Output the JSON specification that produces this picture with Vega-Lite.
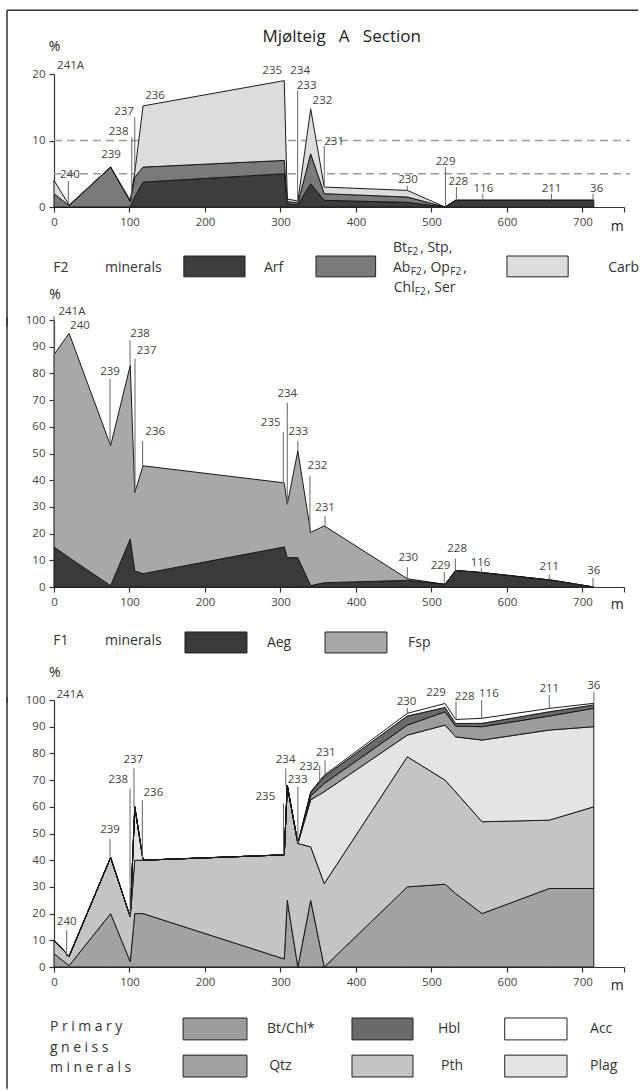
{
"$schema": "https://vega.github.io/schema/vega-lite/v6.json",
"padding": {"left": 6, "top": 9, "right": 0, "bottom": 0},
"bounds": "flush",
"spacing": 113,
"resolve": {"scale": {"x": "independent", "y": "independent", "color": "independent"}},
"config": {
  "font": "Open Sans",
  "view": {"stroke": null},
  "legend": {"disable": true},
  "axis": {"labelFont": "Open Sans", "labelFontSize": 11.5, "labelColor": "#444", "domainColor": "#333", "tickColor": "#333", "domainWidth": 1.2, "tickWidth": 1.2, "tickSize": 5, "grid": false, "labelPadding": 4, "labelOverlap": false, "title": null},
  "text": {"font": "Open Sans", "fontSize": 11.5, "fill": "#444"}
},
"datasets": {
  "ord": [{"min":"Arf","o":1},{"min":"Bt","o":2},{"min":"Carb","o":3},{"min":"Aeg","o":1},{"min":"Fsp","o":2},{"min":"Qtz","o":1},{"min":"Pth","o":2},{"min":"Plag","o":3},{"min":"BtChl","o":4},{"min":"Hbl","o":5},{"min":"Acc","o":6}],
  "f2": [
    {"s":"241A","m":0,"Arf":0,"Bt":2,"Carb":2},
    {"s":"240","m":20,"Arf":0,"Bt":0.2,"Carb":0.1},
    {"s":"239","m":75,"Arf":0,"Bt":6,"Carb":0},
    {"s":"238","m":101,"Arf":0,"Bt":0.8,"Carb":0.2},
    {"s":"237","m":107,"Arf":1.5,"Bt":3,"Carb":0.75},
    {"s":"236","m":118,"Arf":3.75,"Bt":2.25,"Carb":9.2},
    {"s":"235","m":305,"Arf":5,"Bt":2,"Carb":12},
    {"s":"234","m":309,"Arf":0.5,"Bt":0.3,"Carb":0.4},
    {"s":"233","m":323,"Arf":0.3,"Bt":0.3,"Carb":0.3},
    {"s":"232","m":340,"Arf":3.5,"Bt":4.5,"Carb":6.75},
    {"s":"231","m":358,"Arf":1,"Bt":1,"Carb":1},
    {"s":"230","m":468,"Arf":0.7,"Bt":0.8,"Carb":1},
    {"s":"229","m":518,"Arf":0,"Bt":0,"Carb":0},
    {"s":"228","m":532,"Arf":1,"Bt":0,"Carb":0},
    {"s":"116","m":567,"Arf":1,"Bt":0,"Carb":0},
    {"s":"211","m":658,"Arf":1,"Bt":0,"Carb":0},
    {"s":"36","m":715,"Arf":1,"Bt":0,"Carb":0}
  ],
  "f1": [
    {"s":"241A","m":0,"Aeg":15,"Fsp":72},
    {"s":"240","m":20,"Aeg":11,"Fsp":84},
    {"s":"239","m":75,"Aeg":0.5,"Fsp":52.4},
    {"s":"238","m":101,"Aeg":18,"Fsp":65},
    {"s":"237","m":107,"Aeg":6,"Fsp":29.4},
    {"s":"236","m":118,"Aeg":5,"Fsp":40.4},
    {"s":"235","m":305,"Aeg":15,"Fsp":24},
    {"s":"234","m":309,"Aeg":11,"Fsp":20},
    {"s":"233","m":323,"Aeg":11,"Fsp":40},
    {"s":"232","m":340,"Aeg":0.5,"Fsp":19.9},
    {"s":"231","m":358,"Aeg":1.6,"Fsp":21.3},
    {"s":"230","m":468,"Aeg":2.5,"Fsp":0.6},
    {"s":"229","m":518,"Aeg":1,"Fsp":0},
    {"s":"228","m":532,"Aeg":6.2,"Fsp":0},
    {"s":"116","m":567,"Aeg":5.4,"Fsp":0},
    {"s":"211","m":658,"Aeg":2.6,"Fsp":0},
    {"s":"36","m":715,"Aeg":0,"Fsp":0}
  ],
  "prim": [
    {"s":"241A","m":0,"Qtz":5,"Pth":5,"Plag":0,"BtChl":0,"Hbl":0,"Acc":0},
    {"s":"240","m":20,"Qtz":0.5,"Pth":3.5,"Plag":0,"BtChl":0,"Hbl":0,"Acc":0},
    {"s":"239","m":75,"Qtz":20,"Pth":21,"Plag":0,"BtChl":0,"Hbl":0,"Acc":0},
    {"s":"238","m":101,"Qtz":2,"Pth":16.75,"Plag":0,"BtChl":0,"Hbl":0,"Acc":0},
    {"s":"237","m":107,"Qtz":20,"Pth":20,"Plag":20,"BtChl":0,"Hbl":0,"Acc":0},
    {"s":"236","m":118,"Qtz":20,"Pth":20,"Plag":0,"BtChl":0,"Hbl":0,"Acc":0},
    {"s":"235","m":305,"Qtz":3,"Pth":39,"Plag":0,"BtChl":0,"Hbl":0,"Acc":0},
    {"s":"234","m":309,"Qtz":25,"Pth":43,"Plag":0,"BtChl":0,"Hbl":0,"Acc":0},
    {"s":"233","m":323,"Qtz":0,"Pth":46.25,"Plag":0,"BtChl":0,"Hbl":0,"Acc":0},
    {"s":"232","m":340,"Qtz":25,"Pth":20,"Plag":17.6,"BtChl":1.5,"Hbl":1.2,"Acc":0.3},
    {"s":"231","m":358,"Qtz":0,"Pth":31.25,"Plag":34.4,"BtChl":3.1,"Hbl":2.6,"Acc":0.5},
    {"s":"230","m":468,"Qtz":30,"Pth":48.75,"Plag":8.1,"BtChl":3.75,"Hbl":3.4,"Acc":1},
    {"s":"229","m":518,"Qtz":31,"Pth":39,"Plag":20.6,"BtChl":5,"Hbl":1.6,"Acc":1.5},
    {"s":"228","m":532,"Qtz":27.5,"Pth":38.1,"Plag":20.6,"BtChl":4,"Hbl":1,"Acc":1.5},
    {"s":"116","m":567,"Qtz":20,"Pth":34.4,"Plag":30.6,"BtChl":5,"Hbl":1.25,"Acc":1.9},
    {"s":"211","m":656,"Qtz":29.4,"Pth":25.6,"Plag":33.75,"BtChl":5.25,"Hbl":1.6,"Acc":1.25},
    {"s":"36","m":715,"Qtz":29.4,"Pth":30.6,"Plag":30,"BtChl":6.9,"Hbl":1.25,"Acc":0.6}
  ],
  "lab1": [
    {"s":"241A","tx":22,"ty":21.25},
    {"s":"240","tx":21,"ty":4.75,"lx":19,"y1":0.5,"y2":3.9},
    {"s":"239","tx":75.5,"ty":7.75},
    {"s":"238","tx":85.6,"ty":11.25,"lx":103,"y1":1,"y2":10.5},
    {"s":"237","tx":92.7,"ty":14.25,"lx":107,"y1":5.2,"y2":13.5},
    {"s":"236","tx":133.8,"ty":16.75},
    {"s":"235","tx":289,"ty":20.5},
    {"s":"234","tx":326,"ty":20.5},
    {"s":"233","tx":334.6,"ty":18.25,"lx":322.7,"y1":0.9,"y2":17.5},
    {"s":"232","tx":355.6,"ty":16},
    {"s":"231","tx":371,"ty":9.75,"lx":358,"y1":3,"y2":9.2},
    {"s":"230","tx":469,"ty":4,"lx":468,"y1":2.5,"y2":3.2},
    {"s":"229","tx":518.7,"ty":6.75,"lx":518.5,"y1":0,"y2":6},
    {"s":"228","tx":535.5,"ty":3.75,"lx":533,"y1":1,"y2":3},
    {"s":"116","tx":568.7,"ty":2.75,"lx":568,"y1":1,"y2":2},
    {"s":"211","tx":659,"ty":2.75,"lx":659,"y1":1,"y2":2},
    {"s":"36","tx":718.8,"ty":2.75,"lx":714,"y1":1,"y2":2}
  ],
  "lab2": [
    {"s":"241A","tx":23.8,"ty":102.9,"lx":0,"y1":87,"y2":101.5},
    {"s":"240","tx":34.4,"ty":97.9},
    {"s":"239","tx":74.2,"ty":80.4,"lx":74.2,"y1":52.9,"y2":77.9},
    {"s":"238","tx":113.9,"ty":94.75,"lx":100.7,"y1":83,"y2":92.5},
    {"s":"237","tx":122.7,"ty":88.5,"lx":107.3,"y1":35.4,"y2":85.4},
    {"s":"236","tx":134,"ty":57.9,"lx":117.4,"y1":45.4,"y2":54.75},
    {"s":"235","tx":287,"ty":61.6,"lx":303.7,"y1":39,"y2":58},
    {"s":"234","tx":309,"ty":72.25,"lx":309,"y1":31,"y2":69},
    {"s":"233","tx":323.6,"ty":57.9,"lx":323,"y1":51,"y2":54.75},
    {"s":"232","tx":349,"ty":45.4,"lx":339,"y1":20.4,"y2":41.6},
    {"s":"231","tx":359,"ty":29.75,"lx":359,"y1":22.9,"y2":26.6},
    {"s":"230","tx":469.3,"ty":11,"lx":468,"y1":3.1,"y2":7.4},
    {"s":"229","tx":512,"ty":7.9,"lx":517,"y1":1,"y2":5.6},
    {"s":"228","tx":534,"ty":14.1,"lx":531.6,"y1":6.2,"y2":10.6},
    {"s":"116","tx":565,"ty":9.1,"lx":566,"y1":5.4,"y2":7.2},
    {"s":"211","tx":656,"ty":7.5,"lx":656,"y1":2.6,"y2":4.6},
    {"s":"36","tx":715,"ty":6,"lx":714,"y1":0,"y2":3.4}
  ],
  "lab3": [
    {"s":"241A","tx":21.2,"ty":101.9},
    {"s":"240","tx":16.8,"ty":16.9,"lx":16.8,"y1":3.75,"y2":13.75},
    {"s":"239","tx":74.2,"ty":51.25,"lx":74.2,"y1":41,"y2":48.1},
    {"s":"238","tx":85,"ty":70,"lx":100.7,"y1":18.75,"y2":66.9},
    {"s":"237","tx":105,"ty":77.5,"lx":105.9,"y1":60,"y2":74.4},
    {"s":"236","tx":131.6,"ty":65,"lx":117,"y1":40,"y2":62.5},
    {"s":"235","tx":280,"ty":63.75,"lx":304,"y1":42,"y2":61.25},
    {"s":"234","tx":306.8,"ty":77.5,"lx":307,"y1":68,"y2":74.4},
    {"s":"233","tx":322.7,"ty":70,"lx":323,"y1":46.25,"y2":67.5},
    {"s":"232","tx":338,"ty":75,"lx":352,"y1":69.5,"y2":75.5},
    {"s":"231","tx":360,"ty":80,"lx":359,"y1":71.85,"y2":77.5},
    {"s":"230","tx":467,"ty":99.4,"lx":468,"y1":95,"y2":97},
    {"s":"229","tx":506,"ty":102.5},
    {"s":"228","tx":544,"ty":101,"lx":532.5,"y1":92.75,"y2":99.4},
    {"s":"116","tx":576,"ty":102.25,"lx":566.4,"y1":93.15,"y2":100},
    {"s":"211","tx":656,"ty":104,"lx":656,"y1":96.85,"y2":101.9},
    {"s":"36","tx":715,"ty":105.25,"lx":715,"y1":98.75,"y2":103.1}
  ]
},
"vconcat": [
{
  "width": 570, "height": 133,
  "data": {"values": [{}]},
  "layer": [
    {"data": {"values": [{"lvl":10},{"lvl":5}]}, "mark": {"type":"rule","color":"#9a9a9a","strokeWidth":1.5,"strokeDash":[8,5]},
     "encoding": {
       "x":{"datum":0,"type":"quantitative","scale":{"domain":[0,755],"nice":false,"zero":false},"axis":{"values":[0,100,200,300,400,500,600,700,755],"labelExpr":"datum.value > 720 ? '' : datum.label","labelFlush":false}},
       "x2":{"datum":763},
       "y":{"field":"lvl","type":"quantitative","scale":{"domain":[0,20],"nice":false},"axis":{"values":[0,10,20]}}}},
    {"data": {"name":"f2"},
     "transform": [{"fold":["Arf","Bt","Carb"],"as":["min","v"]},{"lookup":"min","from":{"data":{"name":"ord"},"key":"min","fields":["o"]}}],
     "mark": {"type":"area","interpolate":"linear","stroke":"#1a1a1a","strokeWidth":1},
     "encoding": {
       "x": {"field":"m","type":"quantitative","axis":{"values":[0,100,200,300,400,500,600,700,755],"labelExpr":"datum.value > 720 ? '' : datum.label","labelFlush":false}},
       "y": {"field":"v","type":"quantitative","stack":"zero","axis":{"values":[0,10,20]}},
       "color": {"field":"min","type":"nominal","scale":{"domain":["Arf","Bt","Carb","Aeg","Fsp","Qtz","Pth","Plag","BtChl","Hbl","Acc"],"range":["#3d3d3d","#7a7a7a","#dcdcdc","#3a3a3a","#a8a8a8","#a2a2a2","#c4c4c4","#e4e4e4","#9c9c9c","#6a6a6a","#ffffff"]},"legend":null},
       "order": {"field":"o","type":"quantitative"}
     }},
    {"mark": {"type":"rule","color":"#333","strokeWidth":1.5}, "encoding": {"x":{"datum":-62.25,"type":"quantitative","axis":{"values":[0,100,200,300,400,500,600,700,755],"labelExpr":"datum.value > 720 ? '' : datum.label","labelFlush":false}},"x2":{"datum":774},"y":{"datum":29.6,"type":"quantitative","axis":{"values":[0,10,20]}}}},
    {"mark": {"type":"rule","color":"#333","strokeWidth":1.5}, "encoding": {"x":{"datum":-62.25,"type":"quantitative","axis":{"values":[0,100,200,300,400,500,600,700,755],"labelExpr":"datum.value > 720 ? '' : datum.label","labelFlush":false}},"y":{"datum":29.6,"type":"quantitative","axis":{"values":[0,10,20]}},"y2":{"datum":-18}}},
    {"data": {"name":"lab1"}, "transform":[{"filter":"isValid(datum.lx)"}], "mark": {"type":"rule","color":"#666","strokeWidth":1}, "encoding": {"x":{"field":"lx","type":"quantitative","axis":{"values":[0,100,200,300,400,500,600,700,755],"labelExpr":"datum.value > 720 ? '' : datum.label","labelFlush":false}},"y":{"field":"y1","type":"quantitative","axis":{"values":[0,10,20]}},"y2":{"field":"y2"}}},
    {"data": {"name":"lab1"}, "mark": {"type":"text"}, "encoding": {"x":{"field":"tx","type":"quantitative","axis":{"values":[0,100,200,300,400,500,600,700,755],"labelExpr":"datum.value > 720 ? '' : datum.label","labelFlush":false}},"y":{"field":"ty","type":"quantitative","axis":{"values":[0,10,20]}},"text":{"field":"s"}}},
    {"mark": {"type":"text","fill":"#222","fontSize":17},
     "encoding": {"x":{"datum":381,"type":"quantitative","axis":{"values":[0,100,200,300,400,500,600,700,755],"labelExpr":"datum.value > 720 ? '' : datum.label","labelFlush":false}},"y":{"datum":25.56,"type":"quantitative","axis":{"values":[0,10,20]}},"text":{"value":"Mjølteig\u00a0\u00a0\u00a0A\u00a0\u00a0\u00a0Section"}}},
    {"data": {"values": [
       {"t":"%","x":0.7,"y":24.06},
       {"t":"m","x":746,"y":-3.0}]},
     "mark": {"type":"text","fill":"#222","fontSize":14},
     "encoding": {"x":{"field":"x","type":"quantitative","axis":{"values":[0,100,200,300,400,500,600,700,755],"labelExpr":"datum.value > 720 ? '' : datum.label","labelFlush":false}},"y":{"field":"y","type":"quantitative","axis":{"values":[0,10,20]}},"text":{"field":"t"}}},
    {"data": {"values": [
       {"t":"F2","x":-1,"y":-9.17},
       {"t":"minerals","x":67.5,"y":-9.17},
       {"t":"Arf","x":278,"y":-9.17},
       {"t":"Bt","x":449,"y":-6.17},
       {"t":", Stp,","x":485,"y":-6.17},
       {"t":"Ab","x":449,"y":-9.17},
       {"t":", Op","x":489,"y":-9.17},
       {"t":",","x":542,"y":-9.17},
       {"t":"Chl","x":450,"y":-12.18},
       {"t":", Ser","x":494,"y":-12.18},
       {"t":"Carb","x":734,"y":-9.17}]},
     "mark": {"type":"text","align":"left","fill":"#333","fontSize":14},
     "encoding": {"x":{"field":"x","type":"quantitative","axis":{"values":[0,100,200,300,400,500,600,700,755],"labelExpr":"datum.value > 720 ? '' : datum.label","labelFlush":false}},"y":{"field":"y","type":"quantitative","axis":{"values":[0,10,20]}},"text":{"field":"t"}}},
    {"data": {"values": [
       {"t":"F2","x":468,"y":-6.17},
       {"t":"F2","x":472.5,"y":-9.17},
       {"t":"F2","x":525,"y":-9.17},
       {"t":"F2","x":478,"y":-12.18}]},
     "mark": {"type":"text","align":"left","fill":"#333","fontSize":10,"dy":4},
     "encoding": {"x":{"field":"x","type":"quantitative","axis":{"values":[0,100,200,300,400,500,600,700,755],"labelExpr":"datum.value > 720 ? '' : datum.label","labelFlush":false}},"y":{"field":"y","type":"quantitative","axis":{"values":[0,10,20]}},"text":{"field":"t"}}},
    {"data": {"values": [
       {"min":"Arf","x":172,"x2":253},
       {"min":"Bt","x":347,"x2":426},
       {"min":"Carb","x":600,"x2":681}]},
     "mark": {"type":"rect","stroke":"#222","strokeWidth":1},
     "encoding": {"x":{"field":"x","type":"quantitative","axis":{"values":[0,100,200,300,400,500,600,700,755],"labelExpr":"datum.value > 720 ? '' : datum.label","labelFlush":false}},"x2":{"field":"x2"},"y":{"datum":-7.37,"type":"quantitative","axis":{"values":[0,10,20]}},"y2":{"datum":-10.5},"color":{"field":"min","type":"nominal"}}}
  ]
},
{
  "width": 570, "height": 267,
  "data": {"values": [{}]},
  "layer": [
    {"data": {"name":"f1"},
     "transform": [{"fold":["Aeg","Fsp"],"as":["min","v"]},{"lookup":"min","from":{"data":{"name":"ord"},"key":"min","fields":["o"]}}],
     "mark": {"type":"area","interpolate":"linear","stroke":"#1a1a1a","strokeWidth":1},
     "encoding": {
       "x": {"field":"m","type":"quantitative","scale":{"domain":[0,755],"nice":false,"zero":false},"axis":{"values":[0,100,200,300,400,500,600,700,755],"labelExpr":"datum.value > 720 ? '' : datum.label","labelFlush":false}},
       "y": {"field":"v","type":"quantitative","stack":"zero","scale":{"domain":[0,100],"nice":false},"axis":{"values":[0,10,20,30,40,50,60,70,80,90,100]}},
       "color": {"field":"min","type":"nominal","scale":{"domain":["Arf","Bt","Carb","Aeg","Fsp","Qtz","Pth","Plag","BtChl","Hbl","Acc"],"range":["#3d3d3d","#7a7a7a","#dcdcdc","#3a3a3a","#a8a8a8","#a2a2a2","#c4c4c4","#e4e4e4","#9c9c9c","#6a6a6a","#ffffff"]},"legend":null},
       "order": {"field":"o","type":"quantitative"}
     }},
    {"mark": {"type":"rule","color":"#333","strokeWidth":1.5}, "encoding": {"x":{"datum":-62.25,"type":"quantitative","axis":{"values":[0,100,200,300,400,500,600,700,755],"labelExpr":"datum.value > 720 ? '' : datum.label","labelFlush":false}},"y":{"datum":101,"type":"quantitative","axis":{"values":[0,10,20,30,40,50,60,70,80,90,100]}},"y2":{"datum":-43.5}}},
    {"data": {"name":"lab2"}, "transform":[{"filter":"isValid(datum.lx)"}], "mark": {"type":"rule","color":"#666","strokeWidth":1}, "encoding": {"x":{"field":"lx","type":"quantitative","axis":{"values":[0,100,200,300,400,500,600,700,755],"labelExpr":"datum.value > 720 ? '' : datum.label","labelFlush":false}},"y":{"field":"y1","type":"quantitative","axis":{"values":[0,10,20,30,40,50,60,70,80,90,100]}},"y2":{"field":"y2"}}},
    {"data": {"name":"lab2"}, "mark": {"type":"text"}, "encoding": {"x":{"field":"tx","type":"quantitative","axis":{"values":[0,100,200,300,400,500,600,700,755],"labelExpr":"datum.value > 720 ? '' : datum.label","labelFlush":false}},"y":{"field":"ty","type":"quantitative","axis":{"values":[0,10,20,30,40,50,60,70,80,90,100]}},"text":{"field":"s"}}},
    {"data": {"values": [
       {"t":"%","x":1.3,"y":109.4},
       {"t":"m","x":746,"y":-6.74}]},
     "mark": {"type":"text","fill":"#222","fontSize":14},
     "encoding": {"x":{"field":"x","type":"quantitative","axis":{"values":[0,100,200,300,400,500,600,700,755],"labelExpr":"datum.value > 720 ? '' : datum.label","labelFlush":false}},"y":{"field":"y","type":"quantitative","axis":{"values":[0,10,20,30,40,50,60,70,80,90,100]}},"text":{"field":"t"}}},
    {"data": {"values": [
       {"t":"F1","x":-1,"y":-20.2},
       {"t":"minerals","x":67.5,"y":-20.2},
       {"t":"Aeg","x":282,"y":-20.9},
       {"t":"Fsp","x":469,"y":-20.9}]},
     "mark": {"type":"text","align":"left","fill":"#333","fontSize":14},
     "encoding": {"x":{"field":"x","type":"quantitative","axis":{"values":[0,100,200,300,400,500,600,700,755],"labelExpr":"datum.value > 720 ? '' : datum.label","labelFlush":false}},"y":{"field":"y","type":"quantitative","axis":{"values":[0,10,20,30,40,50,60,70,80,90,100]}},"text":{"field":"t"}}},
    {"data": {"values": [
       {"min":"Aeg","x":173.5,"x2":255.6},
       {"min":"Fsp","x":359,"x2":441}]},
     "mark": {"type":"rect","stroke":"#222","strokeWidth":1},
     "encoding": {"x":{"field":"x","type":"quantitative","axis":{"values":[0,100,200,300,400,500,600,700,755],"labelExpr":"datum.value > 720 ? '' : datum.label","labelFlush":false}},"x2":{"field":"x2"},"y":{"datum":-16.85,"type":"quantitative","axis":{"values":[0,10,20,30,40,50,60,70,80,90,100]}},"y2":{"datum":-24.7},"color":{"field":"min","type":"nominal"}}}
  ]
},
{
  "width": 570, "height": 267,
  "data": {"values": [{}]},
  "layer": [
    {"data": {"name":"prim"},
     "transform": [{"fold":["Qtz","Pth","Plag","BtChl","Hbl","Acc"],"as":["min","v"]},{"lookup":"min","from":{"data":{"name":"ord"},"key":"min","fields":["o"]}}],
     "mark": {"type":"area","interpolate":"linear","stroke":"#1a1a1a","strokeWidth":1},
     "encoding": {
       "x": {"field":"m","type":"quantitative","scale":{"domain":[0,755],"nice":false,"zero":false},"axis":{"values":[0,100,200,300,400,500,600,700,755],"labelExpr":"datum.value > 720 ? '' : datum.label","labelFlush":false}},
       "y": {"field":"v","type":"quantitative","stack":"zero","scale":{"domain":[0,100],"nice":false},"axis":{"values":[0,10,20,30,40,50,60,70,80,90,100]}},
       "color": {"field":"min","type":"nominal","scale":{"domain":["Arf","Bt","Carb","Aeg","Fsp","Qtz","Pth","Plag","BtChl","Hbl","Acc"],"range":["#3d3d3d","#7a7a7a","#dcdcdc","#3a3a3a","#a8a8a8","#a2a2a2","#c4c4c4","#e4e4e4","#9c9c9c","#6a6a6a","#ffffff"]},"legend":null},
       "order": {"field":"o","type":"quantitative"}
     }},
    {"mark": {"type":"rule","color":"#333","strokeWidth":1.5}, "encoding": {"x":{"datum":-62.25,"type":"quantitative","axis":{"values":[0,100,200,300,400,500,600,700,755],"labelExpr":"datum.value > 720 ? '' : datum.label","labelFlush":false}},"y":{"datum":101,"type":"quantitative","axis":{"values":[0,10,20,30,40,50,60,70,80,90,100]}},"y2":{"datum":-45.6}}},
    {"data": {"name":"lab3"}, "transform":[{"filter":"isValid(datum.lx)"}], "mark": {"type":"rule","color":"#666","strokeWidth":1}, "encoding": {"x":{"field":"lx","type":"quantitative","axis":{"values":[0,100,200,300,400,500,600,700,755],"labelExpr":"datum.value > 720 ? '' : datum.label","labelFlush":false}},"y":{"field":"y1","type":"quantitative","axis":{"values":[0,10,20,30,40,50,60,70,80,90,100]}},"y2":{"field":"y2"}}},
    {"data": {"name":"lab3"}, "mark": {"type":"text"}, "encoding": {"x":{"field":"tx","type":"quantitative","axis":{"values":[0,100,200,300,400,500,600,700,755],"labelExpr":"datum.value > 720 ? '' : datum.label","labelFlush":false}},"y":{"field":"ty","type":"quantitative","axis":{"values":[0,10,20,30,40,50,60,70,80,90,100]}},"text":{"field":"s"}}},
    {"data": {"values": [
       {"t":"%","x":1,"y":110.1},
       {"t":"m","x":746,"y":-7.1}]},
     "mark": {"type":"text","fill":"#222","fontSize":14},
     "encoding": {"x":{"field":"x","type":"quantitative","axis":{"values":[0,100,200,300,400,500,600,700,755],"labelExpr":"datum.value > 720 ? '' : datum.label","labelFlush":false}},"y":{"field":"y","type":"quantitative","axis":{"values":[0,10,20,30,40,50,60,70,80,90,100]}},"text":{"field":"t"}}},
    {"data": {"values": [
       {"t":"P\u2005r\u2005i\u2005m\u2005a\u2005r\u2005y","x":-5.3,"y":-22.5},
       {"t":"g\u2005n\u2005e\u2005i\u2005s\u2005s","x":-5.3,"y":-30.3},
       {"t":"m\u2005i\u2005n\u2005e\u2005r\u2005a\u2005l\u2005s","x":-5.3,"y":-37.8},
       {"t":"Bt/Chl*","x":282,"y":-23.2},
       {"t":"Qtz","x":285,"y":-37.1},
       {"t":"Hbl","x":508.6,"y":-23.2},
       {"t":"Pth","x":512.6,"y":-37.1},
       {"t":"Acc","x":710,"y":-23.2},
       {"t":"Plag","x":710,"y":-37.1}]},
     "mark": {"type":"text","align":"left","fill":"#333","fontSize":14},
     "encoding": {"x":{"field":"x","type":"quantitative","axis":{"values":[0,100,200,300,400,500,600,700,755],"labelExpr":"datum.value > 720 ? '' : datum.label","labelFlush":false}},"y":{"field":"y","type":"quantitative","axis":{"values":[0,10,20,30,40,50,60,70,80,90,100]}},"text":{"field":"t"}}},
    {"data": {"values": [
       {"min":"BtChl","x":171,"x2":255.6,"y":-19.1,"y2":-27.3},
       {"min":"Qtz","x":171,"x2":255.6,"y":-33.0,"y2":-41.2},
       {"min":"Hbl","x":394.7,"x2":475.5,"y":-19.1,"y2":-27.3},
       {"min":"Pth","x":394.7,"x2":475.5,"y":-33.0,"y2":-41.2},
       {"min":"Acc","x":597,"x2":679.5,"y":-19.1,"y2":-27.3},
       {"min":"Plag","x":597,"x2":679.5,"y":-33.0,"y2":-41.2}]},
     "mark": {"type":"rect","stroke":"#222","strokeWidth":1},
     "encoding": {"x":{"field":"x","type":"quantitative","axis":{"values":[0,100,200,300,400,500,600,700,755],"labelExpr":"datum.value > 720 ? '' : datum.label","labelFlush":false}},"x2":{"field":"x2"},"y":{"field":"y","type":"quantitative","axis":{"values":[0,10,20,30,40,50,60,70,80,90,100]}},"y2":{"field":"y2"},"color":{"field":"min","type":"nominal"}}}
  ]
}
]
}
